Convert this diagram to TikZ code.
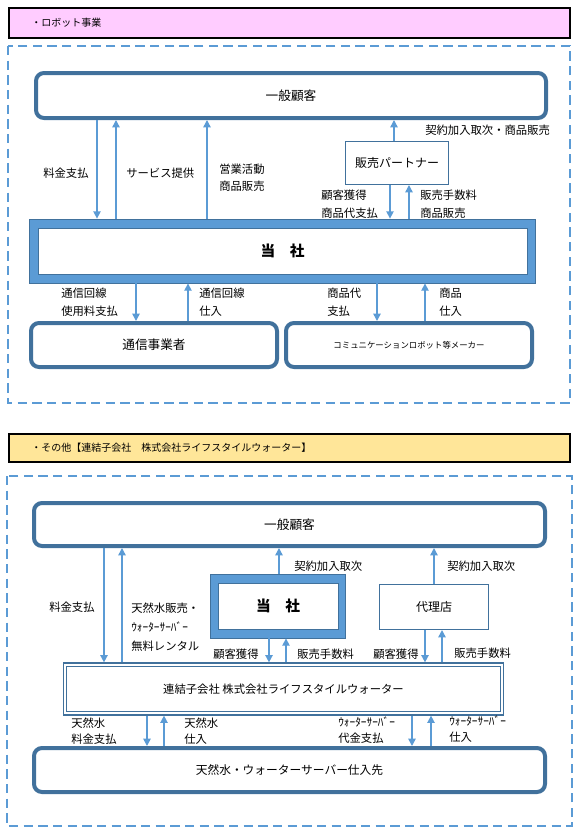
\documentclass[tikz,border=0pt]{standalone}
\usepackage{fontspec}
\newfontfamily\jp{Noto Sans CJK JP}
\usetikzlibrary{arrows.meta}
\definecolor{dkb}{HTML}{41719C}
\definecolor{acc}{HTML}{5B9BD5}
\definecolor{pinkh}{HTML}{FFCCFF}
\definecolor{yelh}{HTML}{FFE699}
\begin{document}
\begin{tikzpicture}[x=0.75pt,y=-0.75pt,
  lbl/.style={font=\jp\fontsize{8.5pt}{13.5pt}\selectfont, align=left, anchor=west, inner sep=0pt},
  rbox/.style={draw=dkb, line width=3pt, rounded corners=6pt, fill=white, inner sep=0pt, font=\jp\fontsize{9.5pt}{12pt}\selectfont},
  sbox/.style={draw=dkb, line width=1.1pt, fill=white, inner sep=0pt, font=\jp\fontsize{9pt}{12pt}\selectfont},
  frame/.style={draw=dkb, line width=0.6pt, fill=acc, inner sep=0pt},
  framein/.style={draw=dkb, line width=0.6pt, fill=white, inner sep=0pt, font=\jp\bfseries\fontsize{11pt}{13pt}\selectfont},
  arr/.style={draw=acc, line width=1.1pt, -{Triangle[length=5.5pt,width=5.5pt]}},
  dashbox/.style={draw=acc, line width=1.2pt, dash pattern=on 7pt off 4pt},
  hdr/.style={draw=black, line width=1.5pt, inner sep=0pt, font=\jp\fontsize{7.5pt}{10pt}\selectfont},
  hdrtxt/.style={anchor=west, inner sep=0pt, font=\jp\fontsize{7.5pt}{10pt}\selectfont}
]
\useasboundingbox (0,0) rectangle (579,833);
\foreach \v in {97,116,207,394,390,409,136,188,377,425,104,122,279,269,286,434,442,147,164,412,431}
  \coordinate (x\v) at (\v,0);

% ---------- Section 1 ----------
\node[hdr, fill=pinkh, minimum width=420.75pt, minimum height=22.5pt] (hdr1) at (289.5,23) {};
\node[hdrtxt] (hdr1t) at (31,23) {・ロボット事業};
\draw[dashbox] (8,46) rectangle (570,403);

\node[rbox, minimum width=382.5pt, minimum height=33.75pt] (cust1) at (291,95.5) {一般顧客};
\node[sbox, minimum width=76.9pt, minimum height=31.9pt] (partner) at (397,163) {販売パートナー};
\node[frame, minimum width=379.5pt, minimum height=48pt] (tosha1) at (282,251) {};
\node[framein, minimum width=366.75pt, minimum height=34.5pt] (tosha1in) at (282.5,251) {当　社};
\node[rbox, minimum width=184.5pt, minimum height=33pt] (tsushin) at (154,345) {通信事業者};
\node[rbox, minimum width=184.5pt, minimum height=33pt, font=\jp\fontsize{6.3pt}{8pt}\selectfont] (maker) at (409,345) {コミュニケーションロボット等メーカー};

\draw[arr] (cust1.south -| x97) -- (tosha1.north -| x97);
\draw[arr] (tosha1.north -| x116) -- (cust1.south -| x116);
\draw[arr] (tosha1.north -| x207) -- (cust1.south -| x207);
\draw[arr] (partner.north -| x394) -- (cust1.south -| x394);
\draw[arr] (partner.south -| x390) -- (tosha1.north -| x390);
\draw[arr] (tosha1.north -| x409) -- (partner.south -| x409);
\draw[arr] (tosha1.south -| x136) -- (tsushin.north -| x136);
\draw[arr] (tsushin.north -| x188) -- (tosha1.south -| x188);
\draw[arr] (tosha1.south -| x377) -- (maker.north -| x377);
\draw[arr] (maker.north -| x425) -- (tosha1.south -| x425);

\node[lbl] (l1) at (43,173) {料金支払};
\node[lbl] (l2) at (126,173) {サービス提供};
\node[lbl, font=\jp\fontsize{8.5pt}{12.75pt}\selectfont] (l3) at (219,177.5) {営業活動\\商品販売};
\node[lbl] (l4) at (425,130) {契約加入取次・商品販売};
\node[lbl] (l5) at (321,204) {顧客獲得\\商品代支払};
\node[lbl] (l6) at (420,204.5) {販売手数料\\商品販売};
\node[lbl] (l7) at (61,302) {通信回線\\使用料支払};
\node[lbl] (l8) at (199,302) {通信回線\\仕入};
\node[lbl] (l9) at (327,302) {商品代\\支払};
\node[lbl] (l10) at (439,302) {商品\\仕入};

% ---------- Section 2 ----------
\node[hdr, fill=yelh, minimum width=420.75pt, minimum height=21pt] (hdr2) at (289.5,448) {};
\node[hdrtxt] (hdr2t) at (31,448) {・その他【連結子会社　株式会社ライフスタイルウォーター】};
\draw[dashbox] (7,476) rectangle (572,826);

\node[rbox, minimum width=383.25pt, minimum height=32.25pt] (cust2) at (289.5,524.5) {一般顧客};
\node[frame, minimum width=101.25pt, minimum height=48pt] (tosha2) at (277.5,606) {};
\node[framein, minimum width=90pt, minimum height=34.5pt] (tosha2in) at (278,606) {当　社};
\node[sbox, minimum width=81.4pt, minimum height=33.4pt] (dairi) at (434,607) {代理店};
\node[draw=dkb, line width=0.9pt, double=white, double distance=1.5pt, outer sep=1.7pt, fill=white, inner sep=0pt,
      minimum width=328pt, minimum height=36.5pt, font=\jp\fontsize{8.5pt}{12pt}\selectfont] (renketsu) at (283.5,689) {連結子会社\ 株式会社ライフスタイルウォーター};
\node[rbox, minimum width=383.25pt, minimum height=33pt, font=\jp\fontsize{8.8pt}{12pt}\selectfont] (shiire) at (289.5,770) {天然水・ウォーターサーバー仕入先};

\draw[arr] (cust2.south -| x104) -- (renketsu.north -| x104);
\draw[arr] (renketsu.north -| x122) -- (cust2.south -| x122);
\draw[arr] (tosha2.north -| x279) -- (cust2.south -| x279);
\draw[arr] (tosha2.south -| x269) -- (renketsu.north -| x269);
\draw[arr] (renketsu.north -| x286) -- (tosha2.south -| x286);
\draw[arr] (dairi.north -| x434) -- (cust2.south -| x434);
\draw[arr] (dairi.south -| x425) -- (renketsu.north -| x425);
\draw[arr] (renketsu.north -| x442) -- (dairi.south -| x442);
\draw[arr] (renketsu.south -| x147) -- (shiire.north -| x147);
\draw[arr] (shiire.north -| x164) -- (renketsu.south -| x164);
\draw[arr] (renketsu.south -| x412) -- (shiire.north -| x412);
\draw[arr] (shiire.north -| x431) -- (renketsu.south -| x431);

\node[lbl] (m1) at (49,607) {料金支払};
\node[lbl, font=\jp\fontsize{8.5pt}{14.25pt}\selectfont] (m2) at (131,627) {天然水販売・\\ｳｫｰﾀｰｻｰﾊﾞｰ\\無料レンタル};
\node[lbl] (m3) at (294,566) {契約加入取次};
\node[lbl] (m4) at (447,566) {契約加入取次};
\node[lbl] (m5) at (213,654) {顧客獲得};
\node[lbl] (m6) at (297,654) {販売手数料};
\node[lbl] (m7) at (373,654) {顧客獲得};
\node[lbl] (m8) at (454,653) {販売手数料};
\node[lbl, font=\jp\fontsize{8.5pt}{12pt}\selectfont] (m9) at (71,731) {天然水\\料金支払};
\node[lbl, font=\jp\fontsize{8.5pt}{12pt}\selectfont] (m10) at (184,731) {天然水\\仕入};
\node[lbl, font=\jp\fontsize{8.5pt}{12pt}\selectfont] (m11) at (338,730) {ｳｫｰﾀｰｻｰﾊﾞｰ\\代金支払};
\node[lbl, font=\jp\fontsize{8.5pt}{12pt}\selectfont] (m12) at (449,729.5) {ｳｫｰﾀｰｻｰﾊﾞｰ\\仕入};
\end{tikzpicture}
\end{document}
